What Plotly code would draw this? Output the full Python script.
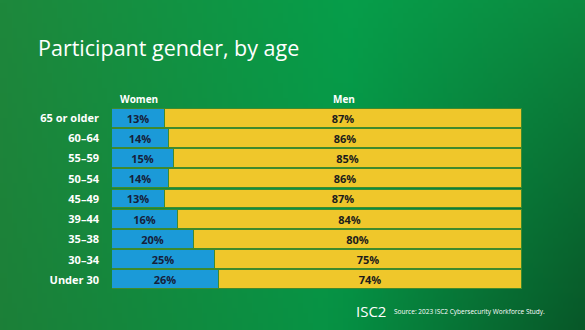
import base64
import struct
import zlib

import plotly.graph_objects as go

# Survey data: share of participants by gender within each age band
age_groups = ["65 or older", "60–64", "55–59", "50–54", "45–49", "39–44", "35–38", "30–34", "Under 30"]
women_pct = [13, 14, 15, 14, 13, 16, 20, 25, 26]
men_pct = [87, 86, 85, 86, 87, 84, 80, 75, 74]

W, H = 585, 330
ML, MR, MT, MB = 112, 63, 108, 40
PW, PH = W - ML - MR, H - MT - MB

BLUE = "#1b9ad8"
YELLOW = "#efc72b"
EDGE = "#3f8a2c"


def lerp(a, b, t):
    return tuple(a[i] + (b[i] - a[i]) * t for i in range(3))


def bg_color(x, y):
    left = (30, 136, 60)
    mid = (6, 158, 74)
    right = (12, 138, 64)
    if x < 0.6:
        c = lerp(left, mid, x / 0.6)
    else:
        c = lerp(mid, right, (x - 0.6) / 0.4)
    # darken toward the lower right corner
    k = 1 - 0.32 * max(0.0, x - 0.55) / 0.45 * y
    k *= 1 - 0.06 * y
    return tuple(max(0, min(255, int(v * k))) for v in c)


def gradient_png(w, h):
    raw = bytearray()
    for j in range(h):
        raw.append(0)
        for i in range(w):
            raw.extend(bg_color(i / (w - 1), j / (h - 1)))

    def chunk(tag, data):
        body = tag + data
        return struct.pack(">I", len(data)) + body + struct.pack(">I", zlib.crc32(body) & 0xFFFFFFFF)

    png = b"\x89PNG\r\n\x1a\n"
    png += chunk(b"IHDR", struct.pack(">IIBBBBB", w, h, 8, 2, 0, 0, 0))
    png += chunk(b"IDAT", zlib.compress(bytes(raw), 9))
    png += chunk(b"IEND", b"")
    return "data:image/png;base64," + base64.b64encode(png).decode()


fig = go.Figure()

fig.add_trace(go.Bar(
    y=age_groups, x=women_pct, orientation="h", name="Women",
    marker=dict(color=BLUE, line=dict(color=EDGE, width=1)),
    width=0.93,
    text=[f"{v}%" for v in women_pct], textposition="inside", insidetextanchor="middle",
    constraintext="none",
    textfont=dict(family="Open Sans", size=11, color="#16203a", weight="bold"),
    cliponaxis=False,
))
fig.add_trace(go.Bar(
    y=age_groups, x=men_pct, orientation="h", name="Men",
    marker=dict(color=YELLOW, line=dict(color=EDGE, width=1)),
    width=0.93,
    text=[f"{v}%" for v in men_pct], textposition="inside", insidetextanchor="middle",
    constraintext="none",
    textfont=dict(family="Open Sans", size=11, color="#1c1c1c", weight="bold"),
    cliponaxis=False,
))

fig.update_layout(
    width=W, height=H,
    margin=dict(l=ML, r=MR, t=MT, b=MB, pad=0),
    barmode="stack",
    bargap=0,
    showlegend=False,
    paper_bgcolor="#13903f",
    plot_bgcolor="rgba(0,0,0,0)",
    xaxis=dict(range=[0, 100], visible=False, fixedrange=True),
    yaxis=dict(
        categoryorder="array", categoryarray=age_groups[::-1],
        range=[-0.5, len(age_groups) - 0.5],
        showgrid=False, zeroline=False, showline=False, ticks="",
        ticklabelstandoff=12,
        tickfont=dict(family="Open Sans", size=11, color="white", weight="bold"),
    ),
    images=[dict(
        source=gradient_png(117, 66), xref="paper", yref="paper",
        x=-ML / PW, y=1 + MT / PH, sizex=W / PW, sizey=H / PH,
        xanchor="left", yanchor="top", sizing="stretch", layer="below",
    )],
)

# Title, column headers and footer
fig.add_annotation(
    text="Participant gender, by age", xref="paper", yref="paper",
    x=(36 - ML) / PW, y=1 + (MT - 47) / PH, xanchor="left", yanchor="middle",
    showarrow=False, font=dict(family="Open Sans", size=21.5, color="white"),
)
fig.add_annotation(
    text="Women", xref="x", yref="paper", x=women_pct[0] / 2, y=1 + 9 / PH,
    xanchor="center", yanchor="middle", showarrow=False,
    font=dict(family="Open Sans", size=10, color="white", weight="bold"),
)
fig.add_annotation(
    text="Men", xref="x", yref="paper", x=women_pct[0] + men_pct[0] / 2, y=1 + 9 / PH,
    xanchor="center", yanchor="middle", showarrow=False,
    font=dict(family="Open Sans", size=10, color="white", weight="bold"),
)
fig.add_annotation(
    text="ISC2", xref="paper", yref="paper",
    x=(354 - ML) / PW, y=-(311 - MT - PH) / PH, xanchor="left", yanchor="middle",
    showarrow=False, font=dict(family="Open Sans", size=15, color="white"),
)
fig.add_annotation(
    text="Source: 2023 ISC2 Cybersecurity Workforce Study.", xref="paper", yref="paper",
    x=(392 - ML) / PW, y=-(311 - MT - PH) / PH, xanchor="left", yanchor="middle",
    showarrow=False, font=dict(family="Open Sans", size=6.5, color="white"),
)

fig.write_html("out.html")
